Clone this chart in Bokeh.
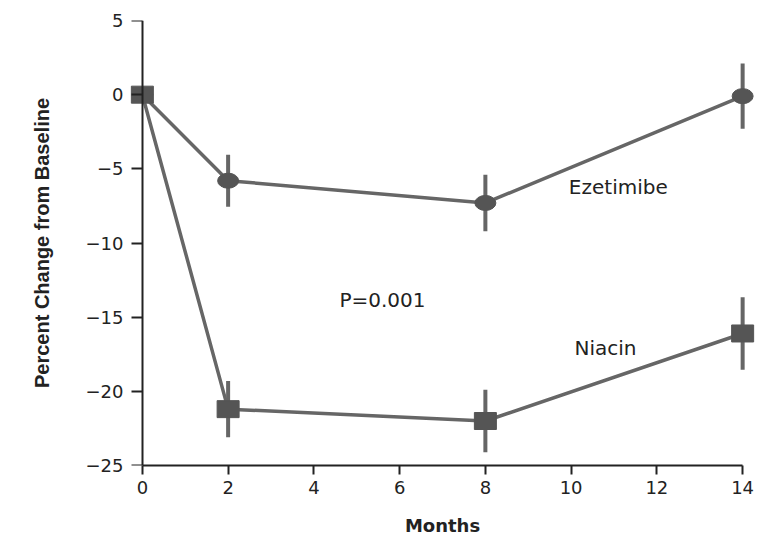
from bokeh.plotting import figure
from bokeh.models import Range1d, FixedTicker, Label, LinearAxis
from bokeh.embed import file_html
from bokeh.resources import INLINE

# Percent change from baseline over time, with error bars
months = [0, 2, 8, 14]

ezetimibe = [0.0, -5.8, -7.3, -0.1]
ezetimibe_err = [0.0, 1.75, 1.9, 2.2]

niacin = [0.0, -21.2, -22.0, -16.1]
niacin_err = [0.0, 1.9, 2.1, 2.45]

x_ticks = [0, 2, 4, 6, 8, 10, 12, 14]
y_ticks = [-25, -20, -15, -10, -5, 0, 5]
y_tick_labels = ["\u221225", "\u221220", "\u221215", "\u221210", "\u22125", "0", "5"]

LINE = "#666666"
MARK = "#555555"
INK = "#222222"
TICK_FONT = "DejaVu Sans"

p = figure(
    width=763, height=542,
    x_range=Range1d(-0.3, 14.3), y_range=Range1d(-25, 5),
    output_backend="svg", toolbar_location=None,
    min_border_left=129, min_border_right=8,
    min_border_top=20, min_border_bottom=77,
)
p.outline_line_color = None
p.xgrid.visible = False
p.ygrid.visible = False
p.background_fill_color = "white"
p.border_fill_color = "white"


def draw_series(vals, errs, kind):
    lo = [v - e for v, e in zip(vals, errs)]
    hi = [v + e for v, e in zip(vals, errs)]
    p.segment(x0=months, y0=lo, x1=months, y1=hi, line_color=LINE, line_width=4)
    p.line(months, vals, line_color=LINE, line_width=3.5)
    if kind == "circle":
        p.ellipse(x=months, y=vals, width=21, height=15,
                  width_units="screen", height_units="screen",
                  fill_color=MARK, line_color=MARK)
    else:
        p.rect(x=months, y=vals, width=22, height=17,
               width_units="screen", height_units="screen",
               fill_color=MARK, line_color=MARK)


draw_series(ezetimibe, ezetimibe_err, "circle")
draw_series(niacin, niacin_err, "square")

# x axis
xa = p.xaxis[0]
xa.ticker = FixedTicker(ticks=x_ticks)
xa.bounds = (0, 14)
xa.axis_line_color = INK
xa.axis_line_width = 2
xa.major_tick_line_color = INK
xa.major_tick_line_width = 2
xa.major_tick_out = 9
xa.major_tick_in = 0
xa.minor_tick_line_color = None
xa.major_label_text_font = TICK_FONT
xa.major_label_text_font_size = "18px"
xa.major_label_text_color = INK
xa.major_label_standoff = 6
xa.axis_label = "Months"
xa.axis_label_text_font = TICK_FONT
xa.axis_label_text_font_style = "bold"
xa.axis_label_text_font_size = "18px"
xa.axis_label_text_color = INK
xa.axis_label_standoff = 18

# y axis labels and title live in the left panel
ya = p.yaxis[0]
ya.ticker = FixedTicker(ticks=y_ticks)
ya.major_label_overrides = {t: s for t, s in zip(y_ticks, y_tick_labels)}
ya.axis_line_color = None
ya.major_tick_line_color = None
ya.major_tick_out = 0
ya.major_tick_in = 0
ya.minor_tick_line_color = None
ya.major_label_text_font = TICK_FONT
ya.major_label_text_font_size = "18px"
ya.major_label_text_color = INK
ya.major_label_standoff = 6
ya.axis_label = "Percent Change from Baseline"
ya.axis_label_text_font = "Liberation Sans"
ya.axis_label_text_font_style = "bold"
ya.axis_label_text_font_size = "20px"
ya.axis_label_text_color = INK
ya.axis_label_standoff = 30

# y axis line and ticks drawn at month 0
y_line = LinearAxis(fixed_location=0, ticker=FixedTicker(ticks=y_ticks))
y_line.axis_line_color = INK
y_line.axis_line_width = 2
y_line.major_tick_line_color = INK
y_line.major_tick_line_width = 2
y_line.major_tick_out = 11
y_line.major_tick_in = 0
y_line.minor_tick_line_color = None
y_line.major_label_text_font_size = "0px"
y_line.major_label_text_color = None
p.add_layout(y_line, "left")

for txt, x, y in [("Ezetimibe", 11.1, -6.2), ("Niacin", 10.8, -17.1), ("P=0.001", 5.6, -13.85)]:
    p.add_layout(Label(x=x, y=y, text=txt, text_align="center", text_baseline="middle",
                       text_font=TICK_FONT, text_font_size="20px", text_color=INK))

open("out.html", "w").write(file_html(p, INLINE))
